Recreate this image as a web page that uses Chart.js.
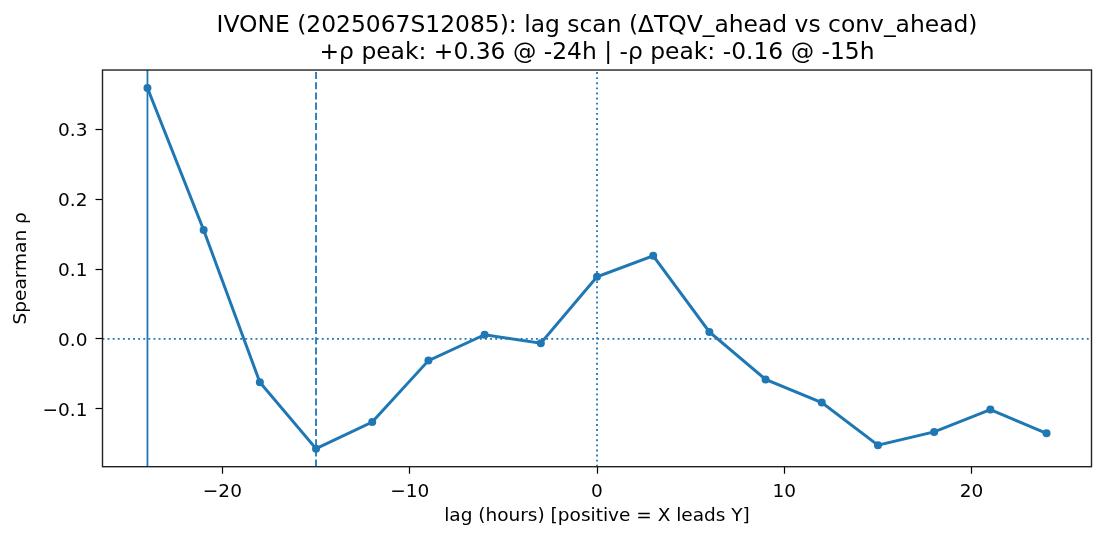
<!DOCTYPE html>
<html>
<head>
<meta charset="utf-8">
<script src="https://cdn.jsdelivr.net/npm/chart.js@4.4.1/dist/chart.umd.min.js"></script>
<style>
  html, body { margin: 0; padding: 0; background: #fff; }
  canvas { display: block; }
</style>
</head>
<body>
<canvas id="lagChart" width="1105" height="540"></canvas>
<script>
// lag (hours) and Spearman rho
const lags = [-24, -21, -18, -15, -12, -9, -6, -3, 0, 3, 6, 9, 12, 15, 18, 21, 24];
const rho = [0.359, 0.156, -0.062, -0.157, -0.119, -0.031, 0.006, -0.006, 0.089, 0.119, 0.010, -0.058, -0.091, -0.152, -0.133, -0.101, -0.135];

const xTicks = [-20, -10, 0, 10, 20];
const yTicks = [-0.1, 0.0, 0.1, 0.2, 0.3];

// marker lines
const peakPosLag = -24;
const peakNegLag = -15;
const zeroLag = 0;
const zeroRho = 0;

const titleLines = [
    'IVONE (2025067S12085): lag scan (\u0394TQV_ahead vs conv_ahead)',
    '+\u03c1 peak: +0.36 @ -24h | -\u03c1 peak: -0.16 @ -15h'
];
const xLabel = 'lag (hours) [positive = X leads Y]';
const yLabel = 'Spearman \u03c1';

const BLUE = '#1f77b4';
const FONT = "'DejaVu Sans', sans-serif";

// matplotlib style 5% margins
const xPad = (Math.max(...lags) - Math.min(...lags)) * 0.05;
const xMin = Math.min(...lags) - xPad;
const xMax = Math.max(...lags) + xPad;
const yPad = (Math.max(...rho) - Math.min(...rho)) * 0.05;
const yMin = Math.min(...rho) - yPad;
const yMax = Math.max(...rho) + yPad;

const minus = s => s.replace('-', '\u2212');

const refLine = (pts, dash) => ({
    data: pts,
    borderColor: BLUE,
    borderWidth: 1.8,
    borderDash: dash,
    pointRadius: 0,
    fill: false,
    order: 2
});

const framePlugin = {
    id: 'frame',
    afterDatasetsDraw(chart) {
        const { ctx, chartArea: a } = chart;
        ctx.save();
        ctx.strokeStyle = '#222';
        ctx.lineWidth = 1.4;
        ctx.strokeRect(a.left, a.top, a.right - a.left, a.bottom - a.top);
        ctx.restore();
    }
};

new Chart(document.getElementById('lagChart'), {
    type: 'line',
    data: {
        datasets: [
            {
                data: lags.map((x, i) => ({ x: x, y: rho[i] })),
                borderColor: BLUE,
                backgroundColor: BLUE,
                borderWidth: 3,
                pointRadius: 4,
                pointBorderWidth: 0,
                pointBackgroundColor: BLUE,
                tension: 0,
                fill: false,
                order: 1
            },
            refLine([{ x: peakPosLag, y: yMin }, { x: peakPosLag, y: yMax }], []),
            refLine([{ x: peakNegLag, y: yMin }, { x: peakNegLag, y: yMax }], [7.1, 3.1]),
            refLine([{ x: zeroLag, y: yMin }, { x: zeroLag, y: yMax }], [1.9, 3.2]),
            refLine([{ x: xMin, y: zeroRho }, { x: xMax, y: zeroRho }], [1.9, 3.2])
        ]
    },
    options: {
        responsive: false,
        animation: false,
        devicePixelRatio: 1,
        layout: { padding: { left: 0, right: 13.5, top: 0, bottom: 0 } },
        plugins: {
            legend: { display: false },
            tooltip: { enabled: false },
            title: {
                display: true,
                fullSize: false,
                text: titleLines,
                color: '#000',
                font: { family: FONT, size: 23.4, weight: 'normal', lineHeight: 1.18 },
                padding: { top: 12, bottom: 2.8 }
            }
        },
        scales: {
            x: {
                type: 'linear',
                min: xMin,
                max: xMax,
                afterBuildTicks: s => { s.ticks = xTicks.map(v => ({ value: v })); },
                afterFit: s => { s.height = 73.3; },
                border: { display: false },
                grid: { drawOnChartArea: false, drawTicks: true, tickLength: 7, tickColor: '#000', tickWidth: 1.2 },
                ticks: {
                    color: '#000',
                    padding: 7,
                    font: { family: FONT, size: 18.5 },
                    maxRotation: 0,
                    callback: v => minus(String(v))
                },
                title: {
                    display: true,
                    text: xLabel,
                    color: '#000',
                    font: { family: FONT, size: 18.5, lineHeight: 1.2 },
                    padding: { top: 0, bottom: 13 }
                }
            },
            y: {
                type: 'linear',
                min: yMin,
                max: yMax,
                afterBuildTicks: s => { s.ticks = yTicks.map(v => ({ value: v })); },
                afterFit: s => { s.width = 102.5; },
                border: { display: false },
                grid: { drawOnChartArea: false, drawTicks: true, tickLength: 7, tickColor: '#000', tickWidth: 1.2 },
                ticks: {
                    color: '#000',
                    padding: 8,
                    labelOffset: 2,
                    font: { family: FONT, size: 18.5 },
                    callback: v => minus((Math.abs(v) < 1e-9 ? 0 : v).toFixed(1))
                },
                title: {
                    display: true,
                    text: yLabel,
                    color: '#000',
                    font: { family: FONT, size: 18.5, lineHeight: 1.2 },
                    padding: { top: 10.5, bottom: 0 }
                }
            }
        }
    },
    plugins: [framePlugin]
});
</script>
</body>
</html>
